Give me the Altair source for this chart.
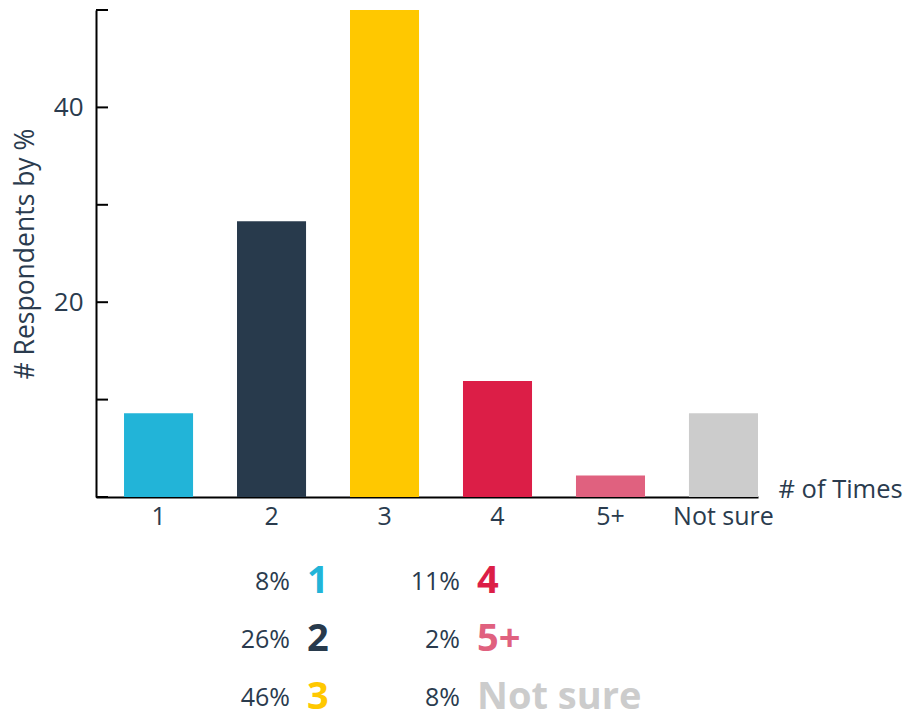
import altair as alt
import pandas as pd

# ---- data ----
categories = ["1", "2", "3", "4", "5+", "Not sure"]
bar_values = [8.6, 28.3, 50.0, 11.9, 2.2, 8.6]
pct_labels = ["8%", "26%", "46%", "11%", "2%", "8%"]
legend_col = [0, 0, 0, 1, 1, 1]
legend_row = [0, 1, 2, 0, 1, 2]
bar_colors = ["#22b4d8", "#283a4c", "#ffc800", "#dc1e47", "#e0617f", "#cccccc"]
tick_values = [0, 10, 20, 30, 40, 50]
y_labels = [20, 40]

FONT = "Open Sans"
NAVY = "#2a3b4e"

df = pd.DataFrame({
    "cat": categories,
    "value": bar_values,
    "pct": pct_labels,
    "col": legend_col,
    "row": legend_row,
})
ticks_df = pd.DataFrame({"t": tick_values})

color = alt.Color("cat:N", scale=alt.Scale(domain=categories, range=bar_colors), legend=None)

bars = alt.Chart(df).mark_bar().encode(
    x=alt.X(
        "cat:N",
        sort=categories,
        scale=alt.Scale(paddingInner=0.389, paddingOuter=0.124, align=1),
        axis=alt.Axis(
            title="# of Times",
            titleX=682, titleY=0, titleAlign="left", titleBaseline="alphabetic",
            titleFont=FONT, titleFontSize=25.5, titleFontWeight="normal", titleColor=NAVY,
            labelAngle=0, labelFont=FONT, labelFontSize=25, labelColor=NAVY,
            labelPadding=7, ticks=False, tickSize=0,
            domainColor="#000000", domainWidth=2,
        ),
    ),
    y=alt.Y(
        "value:Q",
        scale=alt.Scale(domain=[0, 50], nice=False),
        axis=alt.Axis(
            title="# Respondents by %",
            titleX=-71, titleY=243.5, titleAngle=270, titleAlign="center", titleBaseline="middle",
            titleFont=FONT, titleFontSize=26.5, titleFontWeight="normal", titleColor=NAVY,
            values=y_labels, labelFont=FONT, labelFontSize=26, labelColor=NAVY,
            labelPadding=13, ticks=False, tickSize=0, grid=False,
            domainColor="#000000", domainWidth=2,
        ),
    ),
    color=color,
)

tick_rules = alt.Chart(ticks_df).mark_rule(color="#000000", strokeWidth=2).encode(
    y=alt.Y("t:Q", scale=alt.Scale(domain=[0, 50], nice=False), axis=None),
    x=alt.value(0),
    x2=alt.value(12),
)

leg_x = alt.X("col:Q", scale=alt.Scale(domain=[0, 1], range=[194, 364]), axis=None)
leg_y = alt.Y("row:Q", scale=alt.Scale(domain=[0, 2], range=[572, 688]), axis=None)

leg_pct = alt.Chart(df).mark_text(
    align="right", baseline="middle", font=FONT, fontSize=25, color=NAVY
).encode(x=leg_x, y=leg_y, text="pct:N")

leg_cat = alt.Chart(df).mark_text(
    align="left", baseline="middle", font=FONT, fontSize=38, fontWeight="bold", dx=17
).encode(x=leg_x, y=leg_y, text="cat:N", color=color)

legend_layer = alt.layer(leg_pct, leg_cat)

chart = alt.layer(bars, tick_rules, legend_layer).resolve_scale(
    x="independent", y="independent"
).properties(
    width=662,
    height=487,
    autosize=alt.AutoSizeParams(type="none"),
    padding={"left": 96, "top": 10, "right": 145, "bottom": 222},
    background="#ffffff",
).configure_view(stroke=None)

chart.save("out.html", embed_options={"renderer": "svg", "actions": False})
